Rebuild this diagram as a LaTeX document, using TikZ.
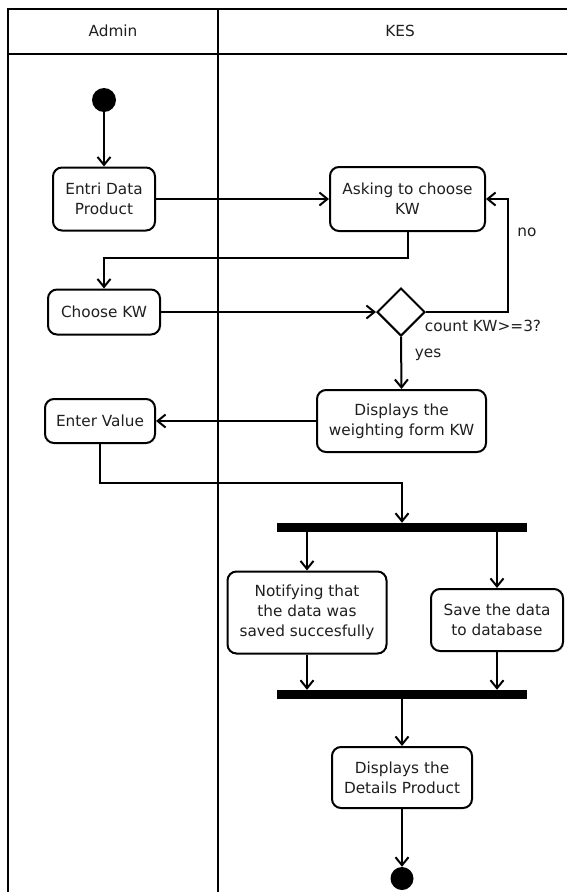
\documentclass[tikz,border=0pt]{standalone}
\usepackage{fontspec}
\setmainfont{DejaVu Sans}
\usetikzlibrary{arrows.meta,shapes.geometric,calc}
\begin{document}
\begin{tikzpicture}[x=1pt,y=-1pt,
  every node/.style={font=\fontsize{15.3}{20}\selectfont, text=black!88},
  act/.style={draw, line width=2pt, rounded corners=9pt, align=center, inner sep=0pt, fill=white},
  bar/.style={fill=black, draw=none, minimum width=250pt, minimum height=9pt, inner sep=0pt},
  dot/.style={circle, fill=black, draw=none, inner sep=0pt},
  flow/.style={line width=2pt, -{Straight Barb[length=8pt,width=13pt,line width=2pt]}},
  frame/.style={line width=2pt},
  lbl/.style={inner sep=0pt}
]
\useasboundingbox (0,0) rectangle (567,892);
% swimlane frame
\draw[frame] (7.5,892) -- (7.5,8.5) -- (570,8.5);
\draw[frame] (7.5,53.5) -- (570,53.5);
\draw[frame] (218,8.5) -- (218,892);
\node[lbl] (hadmin) at (113,31) {Admin};
\node[lbl] (hkes) at (400,31) {KES};

% nodes
\node[dot, minimum size=24pt] (start) at (104,100) {};
\node[act, minimum width=102pt, minimum height=63pt] (entri) at (104,199) {Entri Data\\Product};
\node[act, minimum width=155pt, minimum height=64pt] (ask) at (407.5,199) {Asking to choose\\KW};
\node[act, minimum width=112pt, minimum height=45pt] (choose) at (104,312) {Choose KW};
\node[diamond, draw, line width=2pt, minimum width=48pt, minimum height=48pt, inner sep=0pt] (dec) at (401,312) {};
\node[act, minimum width=169pt, minimum height=62pt] (weigh) at (401.5,421) {Displays the\\weighting form KW};
\node[act, minimum width=110pt, minimum height=44pt] (enter) at (100,421) {Enter Value};
\node[bar] (bar1) at (402,527.5) {};
\node[act, minimum width=159pt, minimum height=82pt] (notify) at (307,612.5) {Notifying that\\the data was\\saved succesfully};
\node[act, minimum width=132pt, minimum height=62pt] (save) at (497,620) {Save the data\\to database};
\node[bar] (bar2) at (402,694.5) {};
\node[act, minimum width=140pt, minimum height=61pt] (details) at (402,777.5) {Displays the\\Details Product};
\node[dot, minimum size=23pt] (end) at (402,878.5) {};

% labels
\node[lbl] (lno) at (527,232) {no};
\node[lbl] (lcount) at (483,326) {count KW>=3?};
\node[lbl] (lyes) at (428,355) {yes};

% junction coordinates
\coordinate (j1) at (407.5,258);
\coordinate (j2) at (508,312);
\coordinate (j3) at (100,483);

% connectors
\draw[flow] (start) -- (entri);
\draw[flow] (entri.east) -- (ask.west);
\draw[flow] (ask.south) -- (j1) -| (choose.north);
\draw[flow] (choose.east) -- (dec.west);
\draw[flow] (dec.east) -- (j2) |- (ask.east);
\draw[flow] (dec.south) -- (weigh.north);
\draw[flow] (weigh.west) -- (enter.east);
\draw[flow] (enter.south) -- (j3) -| (bar1.north);
\draw[flow] (notify.north |- bar1.south) -- (notify.north);
\draw[flow] (save.north |- bar1.south) -- (save.north);
\draw[flow] (notify.south) -- (notify.south |- bar2.north);
\draw[flow] (save.south) -- (save.south |- bar2.north);
\draw[flow] (bar2.south) -- (details.north);
\draw[flow] (details.south) -- (end.north);
\end{tikzpicture}
\end{document}
